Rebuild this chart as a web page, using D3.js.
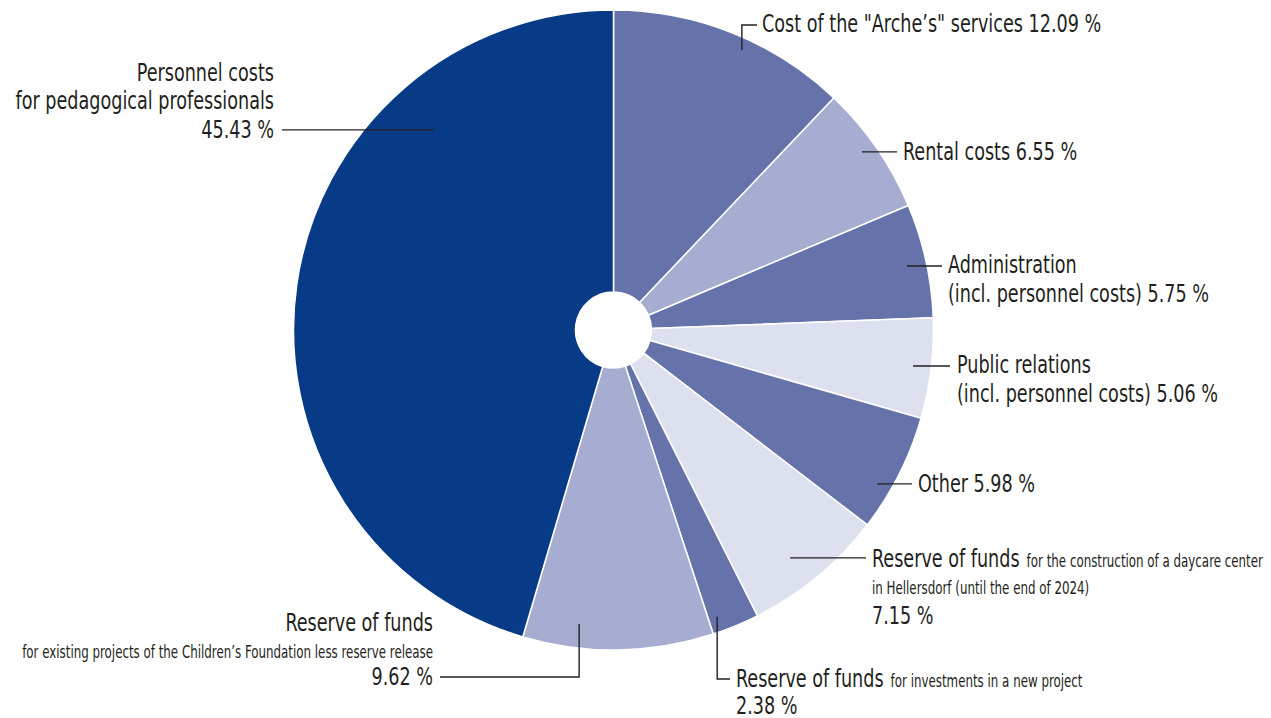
<!DOCTYPE html>
<html><head><meta charset="utf-8">
<script src="https://cdn.jsdelivr.net/npm/d3@7"></script>
<style>
html,body{margin:0;padding:0;background:#fff;}
svg{display:block;}
text{font-family:"Liberation Sans Narrow","DejaVu Sans Condensed",sans-serif;fill:#231f20;}
.big{font-size:24px;}
.small{font-size:17px;}
</style></head><body>
<svg id="chart" width="1271" height="718"></svg>
<script>
// ---- data ----
const categories = [
  "Cost of the \"Arche’s\" services",
  "Rental costs",
  "Administration (incl. personnel costs)",
  "Public relations (incl. personnel costs)",
  "Other",
  "Reserve of funds – daycare center Hellersdorf",
  "Reserve of funds – investments in a new project",
  "Reserve of funds – existing projects",
  "Personnel costs for pedagogical professionals"
];
const values = [12.09, 6.55, 5.75, 5.06, 5.98, 7.15, 2.38, 9.62, 45.43];
const valueLabels = ["12.09 %", "6.55 %", "5.75 %", "5.06 %", "5.98 %", "7.15 %", "2.38 %", "9.62 %", "45.43 %"];
// label lines: each line is a list of [class, text] segments; "{v}" is replaced by the value label
const labelLines = [
  [[["big", "Cost of the \"Arche’s\" services {v}"]]],
  [[["big", "Rental costs {v}"]]],
  [[["big", "Administration"]], [["big", "(incl. personnel costs) {v}"]]],
  [[["big", "Public relations"]], [["big", "(incl. personnel costs) {v}"]]],
  [[["big", "Other {v}"]]],
  [[["big", "Reserve of funds"], ["small", "for the construction of a daycare center"]], [["small", "in Hellersdorf (until the end of 2024)"]], [["big", "{v}"]]],
  [[["big", "Reserve of funds"], ["small", "for investments in a new project"]], [["big", "{v}"]]],
  [[["big", "Reserve of funds"]], [["small", "for existing projects of the Children’s Foundation less reserve release"]], [["big", "{v}"]]],
  [[["big", "Personnel costs"]], [["big", "for pedagogical professionals"]], [["big", "{v}"]]]
];

// ---- styles ----
const sliceColors = ["#6673ab", "#a6add0", "#6673ab", "#dde0ef", "#6673ab", "#dde0ef", "#6673ab", "#a6add0", "#083b87"];
const condense = {big: 0.815, small: 0.775};

// ---- layout ----
const W = 1271, H = 718;
const cx = 613.5, cy = 330, R = 320, R0 = 38;
const layout = [
  {f: 0.566, r: 308,   kind: "up",   elbowY: 25,  endX: 757, tx: 762, ta: "start", ys: [32]},
  {f: 0.46,  r: 305.7, kind: "h",    endX: 897, tx: 903, ta: "start", ys: [160]},
  {f: 0.512, r: 300.4, kind: "h",    endX: 942, tx: 948, ta: "start", ys: [273, 302]},
  {f: 0.497, r: 301.7, kind: "h",    endX: 950, tx: 957, ta: "start", ys: [373, 402]},
  {f: 0.663, r: 305.2, kind: "h",    endX: 912, tx: 918, ta: "start", ys: [492]},
  {f: 0.571, r: 288.3, kind: "h",    endX: 866, tx: 872, ta: "start", ys: [567, 594, 624]},
  {f: 0.8,   r: 305,   kind: "down", elbowY: 679, endX: 730, tx: 736, ta: "start", ys: [687, 714]},
  {f: 0.717, r: 296,   kind: "down", elbowY: 677, endX: 440, tx: 433, ta: "end", ys: [631, 658, 685]},
  {f: 0.744, r: 268.7, kind: "h",    endX: 282, tx: 274, ta: "end", ys: [81, 109, 138]}
];

const svg = d3.select("#chart");
const g = svg.append("g").attr("transform", `translate(${cx},${cy})`);

const pie = d3.pie().sort(null).value(d => d.value);
const arcs = pie(values.map((v, i) => ({value: v, i})));
const arc = d3.arc().innerRadius(R0).outerRadius(R);

g.selectAll("path.slice").data(arcs).enter().append("path")
  .attr("class", "slice")
  .attr("d", arc)
  .attr("fill", d => sliceColors[d.data.i])
  .attr("stroke", "#fff")
  .attr("stroke-width", 1.5)
  .attr("stroke-linejoin", "round");

// leader lines
const lineGen = d3.line();
arcs.forEach((a, i) => {
  const L = layout[i];
  const th = a.startAngle + L.f * (a.endAngle - a.startAngle);
  const px = cx + L.r * Math.sin(th), py = cy - L.r * Math.cos(th);
  let pts;
  if (L.kind === "h") pts = [[px, py], [L.endX, py]];
  else pts = [[px, py], [px, L.elbowY], [L.endX, L.elbowY]];
  svg.append("path")
    .attr("d", lineGen(pts))
    .attr("fill", "none")
    .attr("stroke", "#231f20")
    .attr("stroke-width", 1.4);
});

// labels (each segment its own text, horizontally condensed to mimic the condensed face)
labelLines.forEach((lines, i) => {
  const L = layout[i];
  lines.forEach((segs, j) => {
    let x = L.tx;
    segs.forEach(([cls, txt], k) => {
      const t = svg.append("text")
        .attr("class", cls)
        .attr("x", x).attr("y", L.ys[j])
        .attr("text-anchor", L.ta)
        .text(txt.replace("{v}", valueLabels[i]));
      const w = t.node().getComputedTextLength() * condense[cls];
      t.attr("textLength", w).attr("lengthAdjust", "spacingAndGlyphs");
      x += w + 7;
    });
  });
});
</script>
</body></html>
